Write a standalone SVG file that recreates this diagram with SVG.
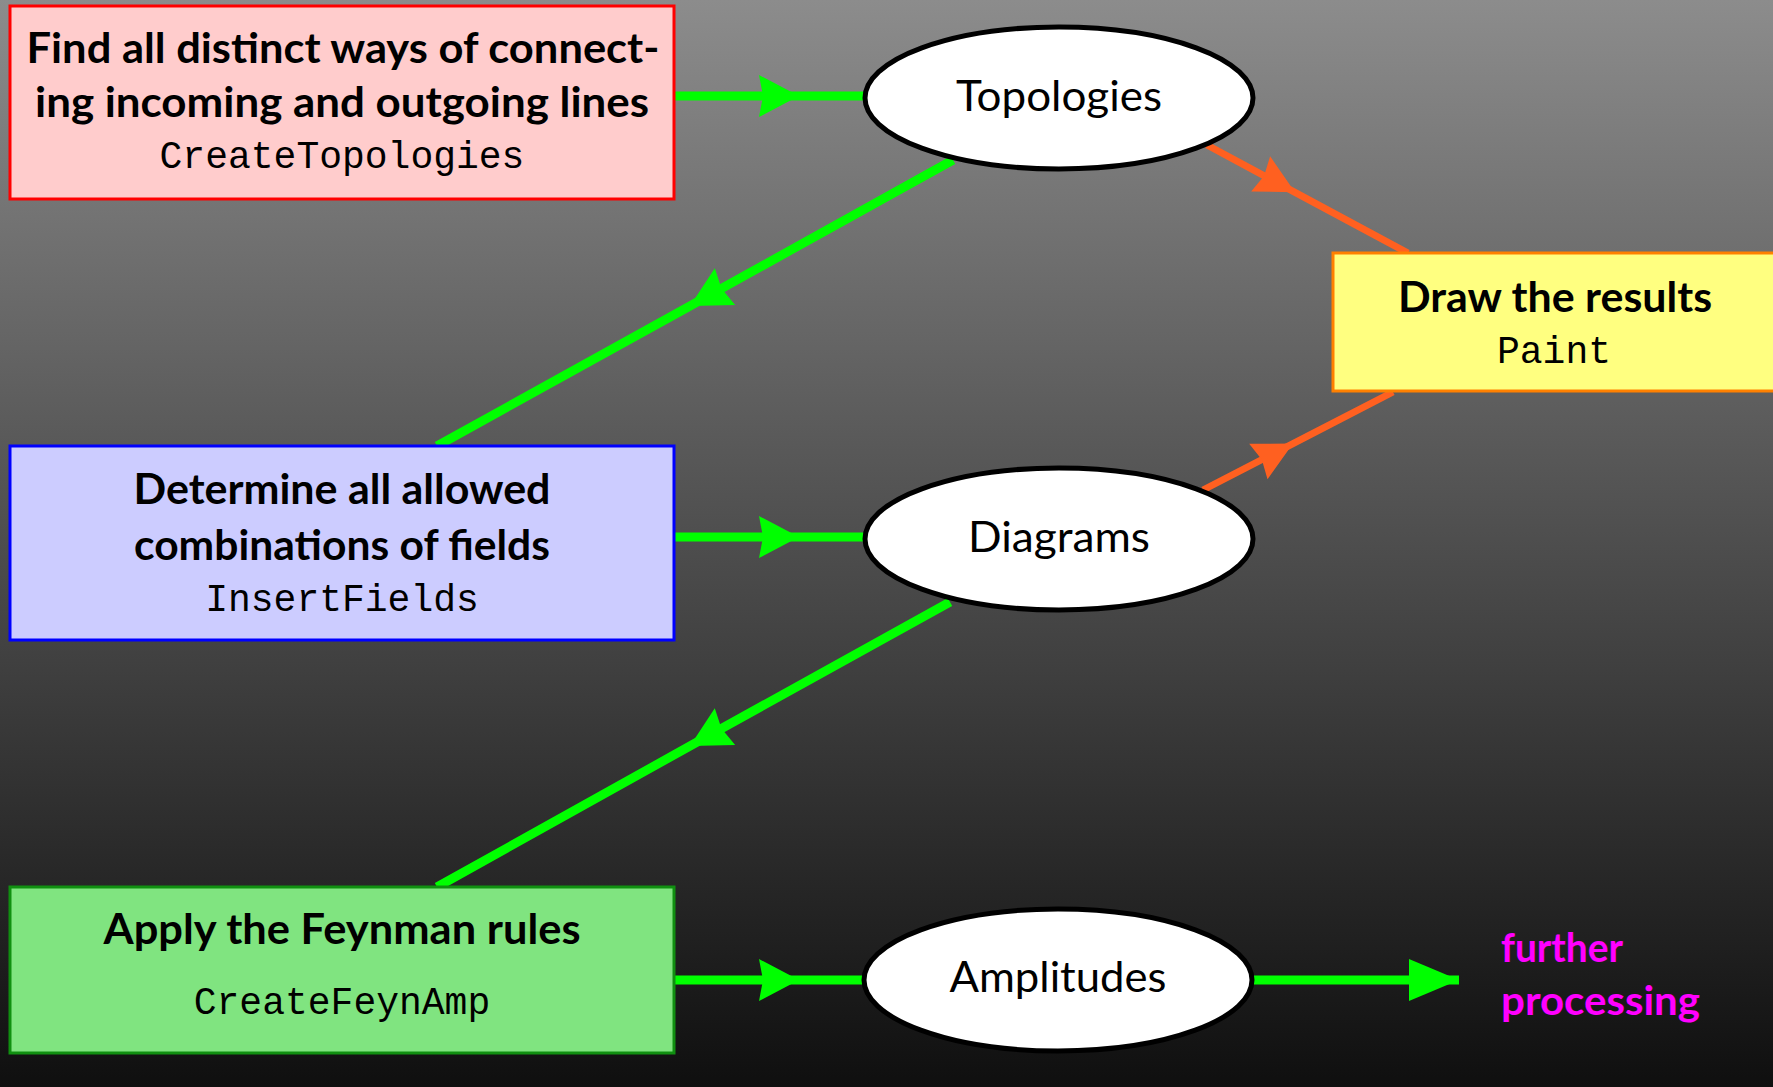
<svg xmlns="http://www.w3.org/2000/svg" width="1773" height="1087" viewBox="0 0 1773 1087">
<defs>
  <linearGradient id="bg" x1="0" y1="0" x2="0" y2="1">
    <stop offset="0" stop-color="#8c8c8c"/>
    <stop offset="1" stop-color="#0f0f0f"/>
  </linearGradient>
  <marker id="ag" markerUnits="userSpaceOnUse" markerWidth="48" markerHeight="48" viewBox="-44 -24 48 48" refX="0" refY="0" orient="auto">
    <path d="M0,0 L-40,-21 L-36,0 L-40,21 Z" fill="#00ff00"/>
  </marker>
  <marker id="ao" markerUnits="userSpaceOnUse" markerWidth="48" markerHeight="48" viewBox="-44 -24 48 48" refX="0" refY="0" orient="auto">
    <path d="M0,0 L-39,-20 L-35,0 L-39,20 Z" fill="#ff6020"/>
  </marker>
  <marker id="agEnd" markerUnits="userSpaceOnUse" markerWidth="56" markerHeight="48" viewBox="-52 -24 56 48" refX="0" refY="0" orient="auto">
    <path d="M0,0 L-50,-21 L-50,21 Z" fill="#00ff00"/>
  </marker>
</defs>
<style>
  .box { stroke-width: 3; }
  .ell { fill: #ffffff; stroke: #000000; stroke-width: 5; }
  .bold { font-family: Lato, "Open Sans", sans-serif; font-weight: 700; font-size: 42px; fill: #000; text-anchor: middle; }
  .mono { font-family: "Liberation Mono", "DejaVu Sans Mono", monospace; font-size: 38px; fill: #000; text-anchor: middle; }
  .lbl { font-family: Lato, "Open Sans", sans-serif; font-size: 42px; fill: #000; text-anchor: middle; }
  .mag { font-family: Lato, "Open Sans", sans-serif; font-weight: 700; font-size: 41px; fill: #ff00ff; }
  .g { fill: none; stroke: #00ff00; stroke-width: 9; }
  .o { fill: none; stroke: #ff6020; stroke-width: 7; }
</style>
<rect x="0" y="0" width="1773" height="1087" fill="url(#bg)"/>

<g id="connectors">
  <path class="g" d="M674,96 L799,96 L864,96" marker-mid="url(#ag)"/>
  <path class="g" d="M953,160 L690,306 L437,446" marker-mid="url(#ag)"/>
  <path class="o" d="M1207,145 L1295,192.3 L1408,253" marker-mid="url(#ao)"/>
  <path class="g" d="M674,537 L799,537 L864,537" marker-mid="url(#ag)"/>
  <path class="g" d="M950,602 L690,746 L437,887" marker-mid="url(#ag)"/>
  <path class="o" d="M1203,490 L1293,443.6 L1393,392" marker-mid="url(#ao)"/>
  <path class="g" d="M674,980 L799,980 L864,980" marker-mid="url(#ag)"/>
  <path class="g" d="M1251,980 L1420,980 L1459,980" marker-end="url(#agEnd)"/>
</g>

<g id="createTopologies">
  <rect class="box" x="10" y="6" width="664" height="193" fill="#ffcccc" stroke="#ff0000"/>
  <text class="bold" x="343" y="63" textLength="633" lengthAdjust="spacingAndGlyphs">Find all distinct ways of connect-</text>
  <text class="bold" x="342" y="117" textLength="614" lengthAdjust="spacingAndGlyphs">ing incoming and outgoing lines</text>
  <text class="mono" x="342" y="168">CreateTopologies</text>
</g>

<g id="topologies">
  <ellipse class="ell" cx="1059" cy="98" rx="194" ry="71"/>
  <text class="lbl" x="1059" y="111" textLength="206" lengthAdjust="spacingAndGlyphs">Topologies</text>
</g>

<g id="paint">
  <rect class="box" x="1333" y="253" width="445" height="138" fill="#ffff80" stroke="#ff8000"/>
  <text class="bold" x="1555" y="312" textLength="314" lengthAdjust="spacingAndGlyphs">Draw the results</text>
  <text class="mono" x="1554" y="363">Paint</text>
</g>

<g id="insertFields">
  <rect class="box" x="10" y="446" width="664" height="194" fill="#ccccff" stroke="#0000ff"/>
  <text class="bold" x="342" y="504" textLength="417" lengthAdjust="spacingAndGlyphs">Determine all allowed</text>
  <text class="bold" x="342" y="560" textLength="416" lengthAdjust="spacingAndGlyphs">combinations of fields</text>
  <text class="mono" x="342" y="611">InsertFields</text>
</g>

<g id="diagrams">
  <ellipse class="ell" cx="1059" cy="539" rx="194" ry="71"/>
  <text class="lbl" x="1059" y="552" textLength="182" lengthAdjust="spacingAndGlyphs">Diagrams</text>
</g>

<g id="createFeynAmp">
  <rect class="box" x="10" y="887" width="664" height="166" fill="#80e480" stroke="#109010"/>
  <text class="bold" x="342" y="944" textLength="477" lengthAdjust="spacingAndGlyphs">Apply the Feynman rules</text>
  <text class="mono" x="342" y="1014">CreateFeynAmp</text>
</g>

<g id="amplitudes">
  <ellipse class="ell" cx="1058" cy="980" rx="194" ry="71"/>
  <text class="lbl" x="1058" y="992" textLength="217" lengthAdjust="spacingAndGlyphs">Amplitudes</text>
</g>

<g id="further">
  <text class="mag" x="1501" y="962" textLength="122" lengthAdjust="spacingAndGlyphs">further</text>
  <text class="mag" x="1501" y="1015" textLength="199" lengthAdjust="spacingAndGlyphs">processing</text>
</g>
</svg>
